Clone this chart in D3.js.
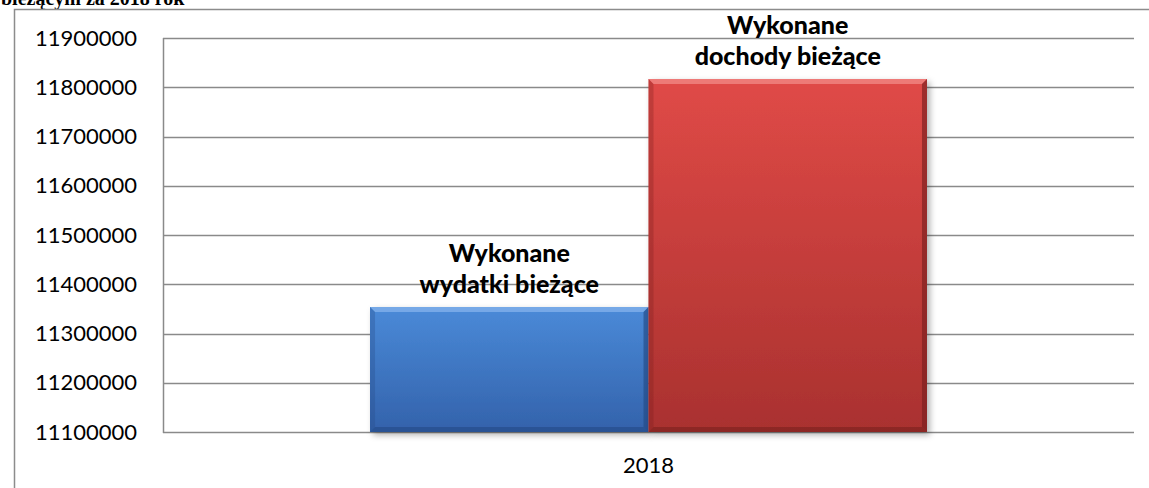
<!DOCTYPE html>
<meta charset="utf-8">
<script src="https://cdn.jsdelivr.net/npm/d3@7"></script>
<style>
    body { margin: 0; background: #fff; }
    svg { display: block; }
    .tick text { font-family: "Gill Sans", "Gill Sans MT", Lato, sans-serif; }
</style>
<div id="chart"></div>
<script>
    // dane
    var categories = ["2018"];
    var seriesNames = [["Wykonane", "wydatki bieżące"], ["Wykonane", "dochody bieżące"]];
    var seriesValues = [11353800, 11816700];
    var tickValues = [11100000, 11200000, 11300000, 11400000, 11500000, 11600000, 11700000, 11800000, 11900000];
    var titleText = "bieżącym za 2018 rok";

    var width = 1149, height = 488;
    var margin = { top: 38, right: 15, bottom: 56, left: 163 };

    var svg = d3.select("#chart").append("svg")
        .attr("width", width)
        .attr("height", height);

    var defs = svg.append("defs");
    var palettes = [
        { top: "#4a8ad8", bottom: "#3362ab", light: "#7eaeea", dark: "#234a86" },
        { top: "#e04a47", bottom: "#a9312f", light: "#f08380", dark: "#7a1f1e" }
    ];
    palettes.forEach((p, i) => {
        var g = defs.append("linearGradient").attr("id", "grad" + i)
            .attr("x1", 0).attr("y1", 0).attr("x2", 0).attr("y2", 1);
        g.append("stop").attr("offset", "0%").attr("stop-color", p.top);
        g.append("stop").attr("offset", "100%").attr("stop-color", p.bottom);
    });
    var shadow = defs.append("filter").attr("id", "shadow")
        .attr("x", "-5%").attr("y", "-5%").attr("width", "115%").attr("height", "115%");
    shadow.append("feDropShadow").attr("dx", 3).attr("dy", 3).attr("stdDeviation", 3)
        .attr("flood-color", "#000").attr("flood-opacity", 0.3);

    // tytuł (ucięty u góry, jak w oryginale)
    svg.append("text")
        .attr("x", 1).attr("y", 5)
        .attr("font-family", "'Liberation Serif', 'Times New Roman', serif")
        .attr("font-weight", "bold")
        .attr("font-size", 20)
        .text(titleText);

    // ramka
    svg.append("path")
        .attr("d", `M14.5,${height} V9.5 H${width}`)
        .attr("fill", "none")
        .attr("stroke", "#8c8c8c")
        .attr("stroke-width", 1.5);

    var x = d3.scaleBand()
        .domain(categories)
        .range([margin.left, width - margin.right])
        .paddingInner(0.4264)
        .paddingOuter(0.2132);

    var xs = d3.scaleBand()
        .domain(d3.range(seriesValues.length))
        .range([0, x.bandwidth()]);

    var y = d3.scaleLinear()
        .domain([11100000, 11900000])
        .range([height - margin.bottom, margin.top]);

    // siatka
    svg.append("g")
        .selectAll("line")
        .data(tickValues)
        .join("line")
        .attr("x1", margin.left)
        .attr("x2", width - margin.right)
        .attr("y1", d => Math.round(y(d)) + 0.5)
        .attr("y2", d => Math.round(y(d)) + 0.5)
        .attr("stroke", "#8a8a8a")
        .attr("stroke-width", 1.5);

    svg.append("line")
        .attr("x1", margin.left + 0.5).attr("x2", margin.left + 0.5)
        .attr("y1", y(11900000)).attr("y2", y(11100000) + 1)
        .attr("stroke", "#8a8a8a")
        .attr("stroke-width", 1.5);

    // oś Y
    svg.append("g")
        .attr("transform", `translate(${margin.left - 26},0)`)
        .call(d3.axisLeft(y).tickValues(tickValues).tickSize(0).tickFormat(d3.format("d")))
        .call(g => g.select(".domain").remove())
        .call(g => g.selectAll("text")
            .attr("font-size", 22)
            .attr("fill", "#000")
            .attr("x", 0));

    // oś X
    svg.append("g")
        .attr("transform", `translate(0,${y(11100000) + 22})`)
        .call(d3.axisBottom(x).tickSize(0))
        .call(g => g.select(".domain").remove())
        .call(g => g.selectAll("text").attr("font-size", 22).attr("fill", "#000"));

    // słupki
    var bev = 5;
    var bars = svg.append("g")
        .selectAll("g")
        .data(seriesValues)
        .join("g");

    bars.each(function (d, i) {
        var g = d3.select(this);
        var x0 = x(categories[0]) + xs(i);
        var w = xs.bandwidth();
        var y0 = y(d);
        var y1 = y(11100000);
        var p = palettes[i];
        g.append("rect")
            .attr("x", x0).attr("y", y0)
            .attr("width", w).attr("height", y1 - y0)
            .attr("fill", `url(#grad${i})`)
            .attr("filter", "url(#shadow)");
        // fazowanie krawędzi
        g.append("path")
            .attr("d", `M${x0},${y0} H${x0 + w} L${x0 + w - bev},${y0 + bev} H${x0 + bev} Z`)
            .attr("fill", p.light).attr("opacity", 0.85);
        g.append("path")
            .attr("d", `M${x0},${y0} L${x0 + bev},${y0 + bev} V${y1 - bev} L${x0},${y1} Z`)
            .attr("fill", p.dark).attr("opacity", 0.3);
        g.append("path")
            .attr("d", `M${x0 + w},${y0} V${y1} L${x0 + w - bev},${y1 - bev} V${y0 + bev} Z`)
            .attr("fill", p.dark).attr("opacity", 0.65);
        g.append("path")
            .attr("d", `M${x0},${y1} H${x0 + w} L${x0 + w - bev},${y1 - bev} H${x0 + bev} Z`)
            .attr("fill", p.dark).attr("opacity", 0.6);

        var lbl = g.append("text")
            .attr("x", x0 + w / 2)
            .attr("y", y0 - 14)
            .attr("text-anchor", "middle")
            .attr("font-family", "'Gill Sans', 'Gill Sans MT', Lato, sans-serif")
            .attr("font-weight", 900)
            .attr("font-size", 25);
        lbl.append("tspan").attr("x", x0 + w / 2).attr("dy", -31).text(seriesNames[i][0]);
        lbl.append("tspan").attr("x", x0 + w / 2).attr("dy", 31).text(seriesNames[i][1]);
    });
</script>
